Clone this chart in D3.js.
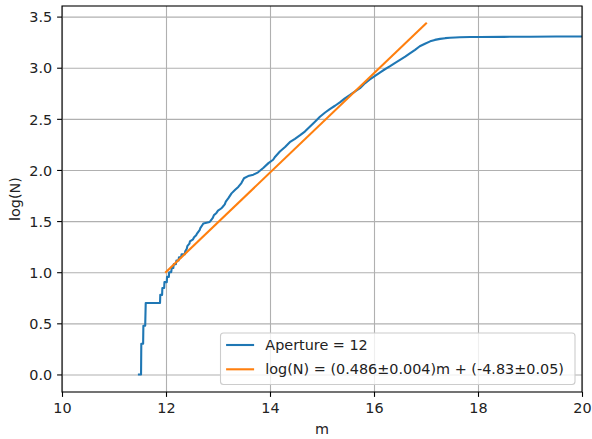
<!DOCTYPE html>
<html>
<head>
<meta charset="utf-8">
<script src="https://cdn.jsdelivr.net/npm/d3@7"></script>
<style>
  html, body { margin: 0; padding: 0; background: #fff; }
  svg { display: block; font-family: "DejaVu Sans", sans-serif; }
</style>
</head>
<body>
<svg id="chart" width="592" height="439"></svg>
<script>
// Cumulative star counts for a 12 px aperture: magnitude vs log10(N)
const apertureMag = [
  11.48, 11.52, 11.525, 11.56, 11.565, 11.60, 11.61, 11.885, 11.89, 11.925,
  11.93, 11.965, 11.97, 12.015, 12.02, 12.055, 12.06, 12.10, 12.11, 12.14,
  12.15, 12.19, 12.20, 12.24, 12.25, 12.29, 12.30, 12.36, 12.37, 12.40,
  12.41, 12.45, 12.46, 12.52, 12.54, 12.58, 12.60, 12.65, 12.66, 12.70,
  12.72, 12.84, 12.86, 12.90, 12.92, 12.97, 13.00, 13.06, 13.08, 13.13,
  13.15, 13.20, 13.26, 13.33, 13.39, 13.45, 13.50, 13.58, 13.68, 13.77,
  13.87, 13.97, 14.06, 14.10, 14.19, 14.29, 14.38, 14.48, 14.58, 14.67,
  14.77, 14.87, 14.96, 15.06, 15.15, 15.25, 15.35, 15.44, 15.54, 15.63,
  15.73, 15.83, 15.92, 16.02, 16.12, 16.21, 16.31, 16.40, 16.50, 16.60,
  16.69, 16.79, 16.88, 16.98, 17.08, 17.17, 17.27, 17.37, 17.46, 17.56,
  17.65, 17.85, 18.04, 18.50, 19.00, 19.50, 20.00
];
const apertureLogN = [
  0.000, 0.000, 0.301, 0.301, 0.477, 0.477, 0.699, 0.699, 0.778, 0.778,
  0.845, 0.845, 0.903, 0.903, 0.954, 0.954, 1.000, 1.000, 1.041, 1.041,
  1.079, 1.079, 1.114, 1.114, 1.146, 1.146, 1.176, 1.176, 1.204, 1.230,
  1.255, 1.279, 1.301, 1.322, 1.342, 1.362, 1.380, 1.415, 1.431, 1.462,
  1.477, 1.491, 1.505, 1.531, 1.556, 1.580, 1.602, 1.623, 1.633, 1.663,
  1.690, 1.724, 1.771, 1.806, 1.834, 1.872, 1.919, 1.940, 1.954, 1.977,
  2.019, 2.067, 2.100, 2.130, 2.180, 2.225, 2.272, 2.305, 2.340, 2.375,
  2.425, 2.474, 2.520, 2.562, 2.595, 2.628, 2.663, 2.700, 2.734, 2.767,
  2.800, 2.850, 2.885, 2.920, 2.955, 2.985, 3.015, 3.045, 3.076, 3.108,
  3.140, 3.175, 3.210, 3.235, 3.258, 3.272, 3.282, 3.289, 3.293, 3.296,
  3.298, 3.300, 3.301, 3.302, 3.303, 3.305, 3.306
];

// Linear fit log(N) = a*m + b over the fitted magnitude range
const fitSlope = 0.486;
const fitSlopeErr = 0.004;
const fitIntercept = -4.83;
const fitInterceptErr = 0.05;
const fitMagRange = [12, 17];

const xTicks = [10, 12, 14, 16, 18, 20];
const yTicks = [0.0, 0.5, 1.0, 1.5, 2.0, 2.5, 3.0, 3.5];
const seriesLabels = [
  "Aperture = 12",
  `log(N) = (${fitSlope}±${fitSlopeErr})m + (${fitIntercept}±${fitInterceptErr})`
];
const seriesColors = ["#1f77b4", "#ff7f0e"];

const svg = d3.select("#chart");
const mLeft = 62, mRight = 582, mTop = 6, mBottom = 392;
const W = mRight - mLeft, H = mBottom - mTop;

const fitPoints = fitMagRange.map(m => [m, fitSlope * m + fitIntercept]);
const yMax = d3.max([d3.max(apertureLogN), d3.max(fitPoints, d => d[1])]);
const yMin = 0;
const pad = (yMax - yMin) * 0.05;

const x = d3.scaleLinear().domain([10, 20]).range([0, W]);
const y = d3.scaleLinear().domain([yMin - pad, yMax + pad]).range([H, 0]);

const g = svg.append("g").attr("transform", `translate(${mLeft},${mTop})`);

g.append("defs").append("clipPath").attr("id", "plotClip")
  .append("rect").attr("width", W).attr("height", H);

// grid
const gridX = g.append("g").attr("transform", `translate(0,${H})`)
  .call(d3.axisBottom(x).tickValues(xTicks).tickSize(-H).tickFormat(""));
const gridY = g.append("g")
  .call(d3.axisLeft(y).tickValues(yTicks).tickSize(-W).tickFormat(""));
[gridX, gridY].forEach(s => {
  s.select(".domain").remove();
  s.selectAll("line").attr("stroke", "#b0b0b0").attr("stroke-width", 1.1);
});

// data
const plot = g.append("g").attr("clip-path", "url(#plotClip)");
const line = d3.line().x(d => x(d[0])).y(d => y(d[1]));
const obs = apertureMag.map((m, i) => [m, apertureLogN[i]]);

plot.append("path").datum(obs)
  .attr("d", line).attr("fill", "none")
  .attr("stroke", seriesColors[0]).attr("stroke-width", 2.1)
  .attr("stroke-linejoin", "round").attr("stroke-linecap", "square");

plot.append("path").datum(fitPoints)
  .attr("d", line).attr("fill", "none")
  .attr("stroke", seriesColors[1]).attr("stroke-width", 2.1)
  .attr("stroke-linecap", "square");

// axes
const fs = 14.4;
const xAxis = g.append("g").attr("transform", `translate(0,${H})`)
  .call(d3.axisBottom(x).tickValues(xTicks).tickSize(4.9).tickPadding(4.9).tickFormat(d3.format("d")));
const yAxis = g.append("g")
  .call(d3.axisLeft(y).tickValues(yTicks).tickSize(4.9).tickPadding(4.9).tickFormat(d3.format(".1f")));
[xAxis, yAxis].forEach(s => {
  s.select(".domain").remove();
  s.selectAll("line").attr("stroke", "#000").attr("stroke-width", 1.1);
  s.selectAll("text").attr("font-size", fs).attr("fill", "#222")
    .attr("font-family", "DejaVu Sans, sans-serif");
});
xAxis.selectAll("text").attr("dy", "0.76em");
yAxis.selectAll("text").attr("dy", "0.36em");

// spines
g.append("rect").attr("width", W).attr("height", H)
  .attr("fill", "none").attr("stroke", "#000").attr("stroke-width", 1.1);

// axis labels
svg.append("text").attr("x", mLeft + W / 2).attr("y", 434)
  .attr("text-anchor", "middle").attr("font-size", fs).attr("fill", "#222").text("m");
svg.append("text")
  .attr("transform", `translate(20,${mTop + H / 2}) rotate(-90)`)
  .attr("text-anchor", "middle").attr("font-size", fs).attr("fill", "#222").text("log(N)");

// legend
const lg = svg.append("g");
const lgX = 220.5, lgY = 333, lgW = 354.5, lgH = 51.5;
lg.append("rect").attr("x", lgX).attr("y", lgY).attr("width", lgW).attr("height", lgH)
  .attr("rx", 3).attr("fill", "#fff").attr("fill-opacity", 0.8)
  .attr("stroke", "#cccccc").attr("stroke-width", 1.1);
seriesLabels.forEach((lab, i) => {
  const cy = 345 + i * 24.3;
  lg.append("line").attr("x1", lgX + 5.6).attr("x2", lgX + 5.6 + 28)
    .attr("y1", cy).attr("y2", cy)
    .attr("stroke", seriesColors[i]).attr("stroke-width", 2.1);
  lg.append("text").attr("x", lgX + 5.6 + 28 + 11.2).attr("y", cy)
    .attr("dy", "0.36em").attr("font-size", fs).attr("fill", "#222").text(lab);
});
</script>
</body>
</html>
